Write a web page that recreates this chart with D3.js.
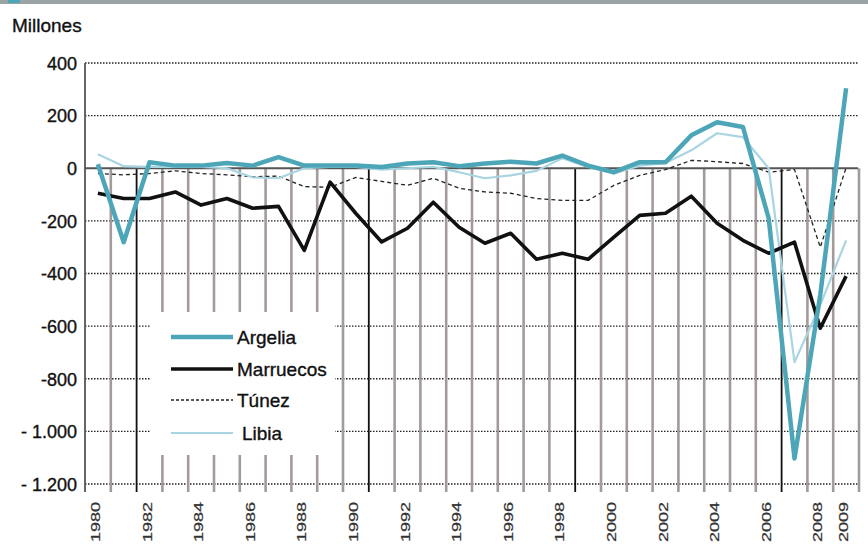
<!DOCTYPE html>
<html>
<head>
<meta charset="utf-8">
<script src="https://cdn.jsdelivr.net/npm/d3@7"></script>
<style>
  body { margin: 0; background: #fff; }
  svg { display: block; font-family: "Liberation Sans", Arial, sans-serif; }
  text { stroke: #111; stroke-width: 0.35px; }
</style>
</head>
<body>
<svg id="chart" width="868" height="551"></svg>
<script>
const years = [1980, 1981, 1982, 1983, 1984, 1985, 1986, 1987, 1988, 1989,
               1990, 1991, 1992, 1993, 1994, 1995, 1996, 1997, 1998, 1999,
               2000, 2001, 2002, 2003, 2004, 2005, 2006, 2007, 2008, 2009];
const argelia = [15, -281, 23, 10, 10, 20, 10, 42, 10, 10,
                 10, 5, 18, 23, 8, 18, 25, 18, 48, 10,
                 -15, 23, 23, 125, 175, 157, -190, -1103, -480, 304];
const marruecos = [-95, -115, -115, -90, -140, -115, -152, -145, -312, -53,
                   -172, -280, -228, -129, -224, -285, -247, -346, -323, -346,
                   -262, -179, -171, -106, -209, -274, -323, -281, -608, -410];
const tunez = [-20, -25, -20, -10, -20, -25, -32, -30, -70, -72,
               -35, -50, -65, -38, -76, -90, -95, -115, -122, -122,
               -65, -27, -5, 30, 25, 18, -15, -5, -300, 2];
const libia = [53, 8, 5, 5, 5, 0, -35, -38, 0, 5,
               5, -5, 0, 5, -15, -38, -27, -10, 38, 5,
               -20, 10, 20, 68, 133, 118, 0, -737, -520, -274];
const yTicks = [400, 200, 0, -200, -400, -600, -800, -1000, -1200];
const xLabels = [1980, 1982, 1984, 1986, 1988, 1990, 1992, 1994, 1996, 1998,
                 2000, 2002, 2004, 2006, 2008, 2009];
// years after which the dividing line is black
const blackAfter = [1981, 1990, 1998, 2006];

const svg = d3.select("#chart");
const x = d3.scaleBand().domain(years).range([85, 859]);
const y = d3.scaleLinear().domain([-1200, 400]).range([484, 63]);
const cx = d => x(d) + x.bandwidth() / 2;

// top bar
svg.append("rect").attr("x", 0).attr("y", 0).attr("width", 868).attr("height", 4).attr("fill", "#9aa4a4");
svg.append("rect").attr("x", 8).attr("y", 0).attr("width", 12).attr("height", 3).attr("fill", "#4da6b8");

svg.append("text").attr("x", 12).attr("y", 32).attr("font-size", 19).attr("fill", "#111").text("Millones");

// horizontal grid
svg.append("g").selectAll("line")
  .data(yTicks.filter(v => v !== 0))
  .join("line")
  .attr("x1", 85).attr("x2", 858)
  .attr("y1", d => y(d)).attr("y2", d => y(d))
  .attr("stroke", "#222").attr("stroke-width", 1.4).attr("stroke-dasharray", "1.5,1.5");

// vertical dividers between years, from 0 down
const bounds = years.map(yr => ({ yr: yr, xb: x(yr) + x.bandwidth() }));
svg.append("g").selectAll("line")
  .data(bounds)
  .join("line")
  .attr("x1", d => d.xb).attr("x2", d => d.xb)
  .attr("y1", y(0)).attr("y2", 492)
  .attr("stroke", d => blackAfter.includes(d.yr) ? "#111" : "#a39b9b")
  .attr("stroke-width", d => blackAfter.includes(d.yr) ? 1.8 : 2.6);

// zero line and y axis line
svg.append("line").attr("x1", 85).attr("x2", 858).attr("y1", y(0)).attr("y2", y(0))
  .attr("stroke", "#555").attr("stroke-width", 1.8);
svg.append("line").attr("x1", 85).attr("x2", 85).attr("y1", y(400)).attr("y2", 492)
  .attr("stroke", "#5a5454").attr("stroke-width", 1.8);

// y axis labels
const fmt = v => v <= -1000 ? "- " + d3.format(",")(-v).replace(",", ".") : String(v);
const yAxis = svg.append("g").attr("transform", "translate(85,0)")
  .call(d3.axisLeft(y).tickValues(yTicks).tickFormat(fmt).tickSize(0).tickPadding(8));
yAxis.select(".domain").remove();
yAxis.selectAll("text").attr("font-size", 18).attr("fill", "#111")
  .attr("font-family", "Liberation Sans, Arial, sans-serif").attr("dy", "0.35em");

// x labels
svg.append("g").selectAll("text")
  .data(xLabels)
  .join("text")
  .attr("transform", d => "translate(" + (cx(d) + 2) + ",502) rotate(-90) scale(1,0.68)")
  .attr("text-anchor", "end")
  .attr("font-size", 18).attr("fill", "#333")
  .style("stroke", "#333")
  .text(d => d);

// legend background
svg.append("rect").attr("x", 150).attr("y", 312).attr("width", 185).attr("height", 143).attr("fill", "#fff");

const series = [
  { name: "Túnez", values: tunez, color: "#222", width: 1.3, dash: "4,3" },
  { name: "Libia", values: libia, color: "#a9d5e2", width: 2.2, dash: null },
  { name: "Marruecos", values: marruecos, color: "#111", width: 3.6, dash: null },
  { name: "Argelia", values: argelia, color: "#4da6b8", width: 4.5, dash: null }
];

const line = d3.line().x(d => cx(d[0])).y(d => y(d[1]));
svg.append("g").selectAll("path")
  .data(series)
  .join("path")
  .attr("d", s => line(years.map((yr, i) => [yr, s.values[i]])))
  .attr("fill", "none")
  .attr("stroke", s => s.color)
  .attr("stroke-width", s => s.width)
  .attr("stroke-dasharray", s => s.dash)
  .attr("stroke-linejoin", "round");

// legend
const legendItems = [
  { name: "Argelia", ly: 337, tx: 237, s: series[3] },
  { name: "Marruecos", ly: 369, tx: 237, s: series[2] },
  { name: "Túnez", ly: 400, tx: 237, s: series[0] },
  { name: "Libia", ly: 433, tx: 242, s: series[1] }
];
const lg = svg.append("g").selectAll("g").data(legendItems).join("g");
lg.append("line")
  .attr("x1", 171).attr("x2", 233)
  .attr("y1", d => d.ly).attr("y2", d => d.ly)
  .attr("stroke", d => d.s.color)
  .attr("stroke-width", d => d.s.width)
  .attr("stroke-dasharray", d => d.s.dash === null ? null : "3,2");
lg.append("text")
  .attr("x", d => d.tx).attr("y", d => d.ly + 7)
  .attr("font-size", 19).attr("fill", "#111")
  .text(d => d.name);
</script>
</body>
</html>
